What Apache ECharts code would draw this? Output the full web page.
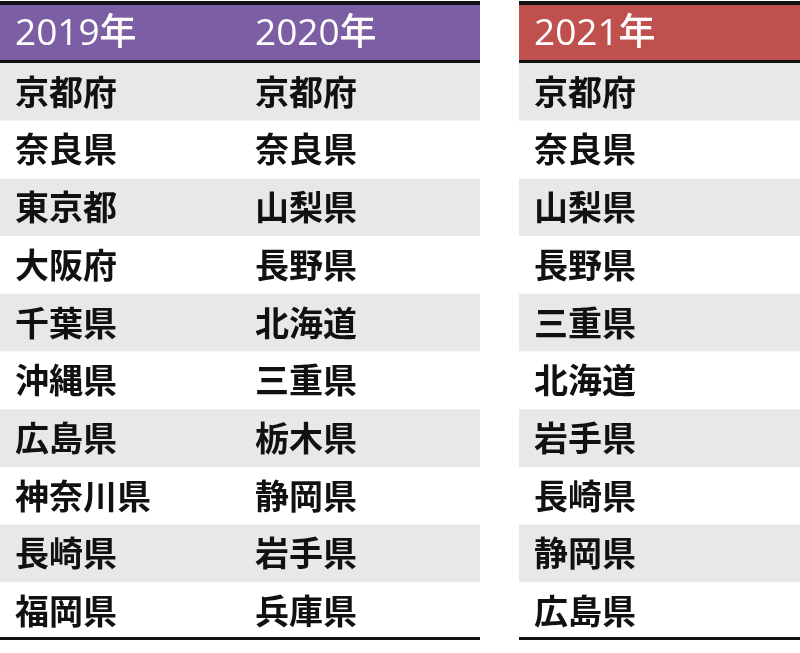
<!DOCTYPE html>
<html><head><meta charset="utf-8">
<script src="https://cdn.jsdelivr.net/npm/echarts@6/dist/echarts.min.js"></script>
<style>html,body{margin:0;padding:0;background:#fff}#main{width:800px;height:653px}</style>
</head><body><div id="main"></div>
<script>
var years = ['2019年', '2020年', '2021年'];
var rank2019 = ['京都府', '奈良県', '東京都', '大阪府', '千葉県', '沖縄県', '広島県', '神奈川県', '長崎県', '福岡県'];
var rank2020 = ['京都府', '奈良県', '山梨県', '長野県', '北海道', '三重県', '栃木県', '静岡県', '岩手県', '兵庫県'];
var rank2021 = ['京都府', '奈良県', '山梨県', '長野県', '三重県', '北海道', '岩手県', '長崎県', '静岡県', '広島県'];

var myChart = echarts.init(document.getElementById('main'));
var font = '"Noto Sans CJK JP", sans-serif';
var top0 = 63, rowH = 57.7;
// 表ブロック: 左は2019/2020、右は2021
var blocks = [
  { x: 0, w: 480, color: '#7b5ea4', cols: [{ x: 15, title: years[0], data: rank2019 }, { x: 255, title: years[1], data: rank2020 }] },
  { x: 519, w: 281, color: '#c0504d', cols: [{ x: 534, title: years[2], data: rank2021 }] }
];
var g = [];
blocks.forEach(function (b) {
  g.push({ type: 'rect', shape: { x: b.x, y: 2, width: b.w, height: 58 }, style: { fill: b.color } });
  g.push({ type: 'rect', shape: { x: b.x, y: 1, width: b.w, height: 4 }, style: { fill: '#111' } });
  for (var i = 0; i < 10; i++) {
    g.push({ type: 'rect', shape: { x: b.x, y: top0 + i * rowH, width: b.w, height: rowH }, style: { fill: i % 2 ? '#fff' : '#e8e8e8' } });
  }
  g.push({ type: 'rect', shape: { x: b.x, y: 60, width: b.w, height: 3 }, style: { fill: '#111' } });
  g.push({ type: 'rect', shape: { x: b.x, y: top0 + 10 * rowH - 3, width: b.w, height: 3 }, style: { fill: '#111' } });
  b.cols.forEach(function (c) {
    g.push({ type: 'text', x: c.x, y: 34, style: { text: c.title, fill: '#fff', font: '500 37px "Open Sans", ' + font, verticalAlign: 'middle' } });
    c.data.forEach(function (name, i) {
      g.push({ type: 'text', x: c.x, y: top0 + i * rowH + rowH / 2, style: { text: name, fill: '#111', font: '600 34px ' + font, verticalAlign: 'middle' } });
    });
  });
});
myChart.setOption({ animation: false, graphic: g });
</script></body></html>
